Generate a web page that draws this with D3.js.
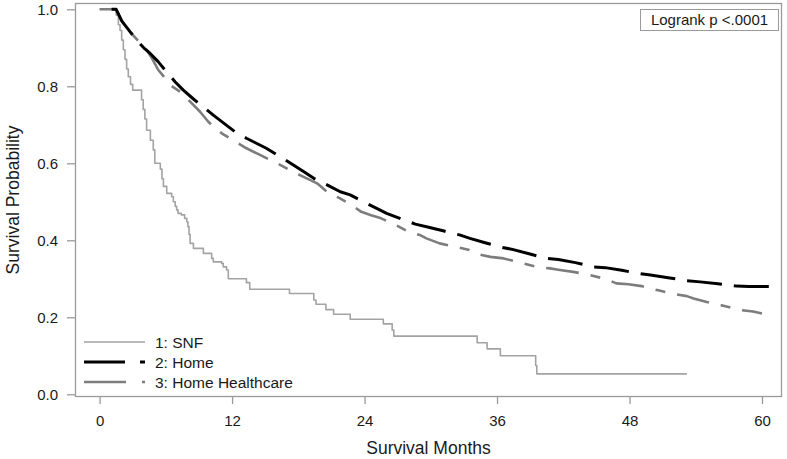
<!DOCTYPE html>
<html><head><meta charset="utf-8">
<script src="https://cdn.jsdelivr.net/npm/d3@7"></script>
<style>body{margin:0;background:#fff}svg{display:block}text{font-family:"Liberation Sans",Arial,sans-serif}</style>
</head><body>
<script>
// ---- data ----
const xTicks = [0, 12, 24, 36, 48, 60];
const yTicks = [0.0, 0.2, 0.4, 0.6, 0.8, 1.0];
const seriesNames = ["1: SNF", "2: Home", "3: Home Healthcare"];

const snfTime = [0,1.5,1.7,1.85,2.0,2.15,2.3,2.45,2.6,2.8,3.0,3.8,3.95,4.1,4.26,4.6,4.86,5.0,5.5,5.65,5.78,6.08,6.53,6.68,6.85,6.98,7.1,7.4,7.7,7.9,8.0,8.1,8.2,8.5,9.4,10.15,10.3,11.06,11.2,11.5,11.66,13.3,13.6,17.2,19.4,19.6,20.5,21.2,22.7,25.7,26.5,26.65,34.2,35.1,36.3,39.5,39.6,53.2];
const snfSurv = [1.0,0.985,0.96,0.945,0.92,0.895,0.87,0.845,0.825,0.805,0.79,0.765,0.74,0.715,0.686,0.66,0.635,0.60,0.585,0.56,0.54,0.522,0.513,0.50,0.488,0.479,0.47,0.466,0.457,0.448,0.435,0.415,0.392,0.379,0.366,0.353,0.344,0.34,0.331,0.323,0.30,0.29,0.273,0.262,0.245,0.234,0.22,0.208,0.195,0.183,0.167,0.151,0.134,0.118,0.10,0.075,0.053,0.053];

const homeTime = [0,1.5,2.0,2.75,3.5,4.0,4.56,5.3,6.0,6.83,7.58,8.5,9.55,10.3,11.3,12.26,13.3,14.2,15.1,16.2,17.3,18.4,19.4,20.6,21.8,22.7,23.9,25.1,26.0,27.3,28.6,29.8,31.2,32.6,33.55,35.0,36.4,37.3,38.9,40.5,41.55,43.1,44.7,45.8,47.3,48.8,49.9,51.5,53.2,54.4,56.0,57.7,58.8,60.7];
const homeSurv = [1.0,1.0,0.97,0.942,0.915,0.90,0.886,0.864,0.84,0.812,0.79,0.767,0.743,0.725,0.703,0.682,0.665,0.652,0.639,0.62,0.60,0.58,0.561,0.544,0.526,0.518,0.50,0.483,0.47,0.456,0.442,0.434,0.424,0.414,0.405,0.393,0.382,0.377,0.365,0.353,0.35,0.342,0.331,0.329,0.322,0.314,0.31,0.303,0.295,0.292,0.287,0.281,0.28,0.28];

const hhcTime = [0,1.5,2.2,2.9,3.6,4.27,4.8,5.3,6.08,6.4,7.3,8.2,9.1,9.85,10.15,11.06,12.2,13.3,14.3,15.2,16.2,17.2,18.1,19.05,19.7,20.6,21.7,22.8,23.7,24.6,25.5,26.8,28.0,29.0,29.6,30.8,32.1,33.5,34.6,35.4,36.6,38.1,39.6,40.8,41.7,42.9,44.4,45.9,46.8,47.9,49.1,50.6,52.1,53.2,53.8,55.0,56.5,58.0,59.2,60.0];
const hhcSurv = [1.0,1.0,0.96,0.937,0.915,0.894,0.87,0.843,0.816,0.803,0.786,0.76,0.734,0.708,0.70,0.678,0.658,0.639,0.625,0.612,0.598,0.583,0.57,0.557,0.548,0.526,0.51,0.492,0.474,0.465,0.457,0.44,0.422,0.414,0.405,0.392,0.384,0.375,0.362,0.357,0.353,0.342,0.331,0.327,0.323,0.318,0.31,0.299,0.288,0.286,0.281,0.27,0.26,0.255,0.249,0.24,0.23,0.219,0.215,0.21];

const pText = "Logrank p <.0001";

// ---- layout ----
const W = 787, H = 459;
const frame = {l: 75, t: 3, r: 782, b: 397};
const FONT = '"Liberation Sans",Arial,sans-serif';
const svg = d3.select("body").append("svg").attr("width", W).attr("height", H);

const x = d3.scaleLinear().domain([0, 60]).range([99.6, 762]);
const y = d3.scaleLinear().domain([0, 1]).range([394.3, 9.3]);

const textColor = "#1a1a1a";
const axisColor = "#9a9a9a";

// frame
svg.append("rect").attr("x", frame.l + 0.5).attr("y", frame.t + 0.5)
  .attr("width", frame.r - frame.l - 1).attr("height", frame.b - frame.t - 1)
  .attr("fill", "none").attr("stroke", axisColor).attr("stroke-width", 1.3);

// x axis
const xAxis = svg.append("g").attr("transform", `translate(0,${frame.b})`)
  .call(d3.axisBottom(x).tickValues(xTicks).tickSize(7).tickSizeOuter(0).tickPadding(11).tickFormat(d3.format("d")));
xAxis.select(".domain").remove();
xAxis.selectAll("line").attr("stroke", axisColor).attr("stroke-width", 1.3);
xAxis.selectAll("text").attr("font-size", 15).attr("fill", textColor).style("font-family", FONT);

// y axis
const yAxis = svg.append("g").attr("transform", `translate(${frame.l},0)`)
  .call(d3.axisLeft(y).tickValues(yTicks).tickSize(8).tickSizeOuter(0).tickPadding(9).tickFormat(d3.format(".1f")));
yAxis.select(".domain").remove();
yAxis.selectAll("line").attr("stroke", axisColor).attr("stroke-width", 1.3);
yAxis.selectAll("text").attr("font-size", 15).attr("fill", textColor).style("font-family", FONT);

// axis titles
svg.append("text").attr("x", (frame.l + frame.r) / 2).attr("y", 454)
  .attr("text-anchor", "middle").attr("font-size", 17.5).attr("fill", textColor).text("Survival Months");
svg.append("text").attr("transform", `translate(19,${(frame.t + frame.b) / 2}) rotate(-90)`)
  .attr("text-anchor", "middle").attr("font-size", 17.5).attr("fill", textColor).text("Survival Probability");

// curves: SNF has sparse visible steps; Home / Home Healthcare have dense tiny steps (drawn through read points)
const series = [
  {name: seriesNames[0], t: snfTime, s: snfSurv, color: "#a3a3a3", width: 1.6, dash: null, offset: 0, legDash: null, curve: d3.curveStepAfter},
  {name: seriesNames[1], t: homeTime, s: homeSurv, color: "#000000", width: 3, dash: "35,12", offset: 35, legDash: "41,15", curve: d3.curveLinear},
  {name: seriesNames[2], t: hhcTime, s: hhcSurv, color: "#7d7d7d", width: 2.6, dash: "33,12,10,12", offset: 0, legDash: "42,16,10,16", curve: d3.curveLinear}
];
[series[0], series[2], series[1]].forEach(sr => {
  const pts = sr.t.map((t, i) => [t, sr.s[i]]);
  const line = d3.line().x(d => x(d[0])).y(d => y(d[1])).curve(sr.curve);
  svg.append("path").datum(pts).attr("d", line).attr("fill", "none")
    .attr("stroke", sr.color).attr("stroke-width", sr.width)
    .attr("stroke-dasharray", sr.dash).attr("stroke-dashoffset", sr.offset)
    .attr("stroke-linejoin", "round");
});

// legend
const legY = [342, 362, 382];
series.forEach((sr, i) => {
  svg.append("line").attr("x1", 84).attr("x2", 145).attr("y1", legY[i]).attr("y2", legY[i])
    .attr("stroke", sr.color).attr("stroke-width", sr.width).attr("stroke-dasharray", sr.legDash);
  svg.append("text").attr("x", 155).attr("y", legY[i] + 5.5).attr("font-size", 15.5)
    .attr("fill", textColor).text(sr.name);
});

// logrank box
const pbox = svg.append("g");
pbox.append("rect").attr("x", 640.5).attr("y", 9.5).attr("width", 138).attr("height", 21)
  .attr("fill", "#fff").attr("stroke", axisColor).attr("stroke-width", 1);
pbox.append("text").attr("x", 709.5).attr("y", 25).attr("text-anchor", "middle")
  .attr("font-size", 15).attr("fill", textColor).text(pText);
</script>
</body></html>
